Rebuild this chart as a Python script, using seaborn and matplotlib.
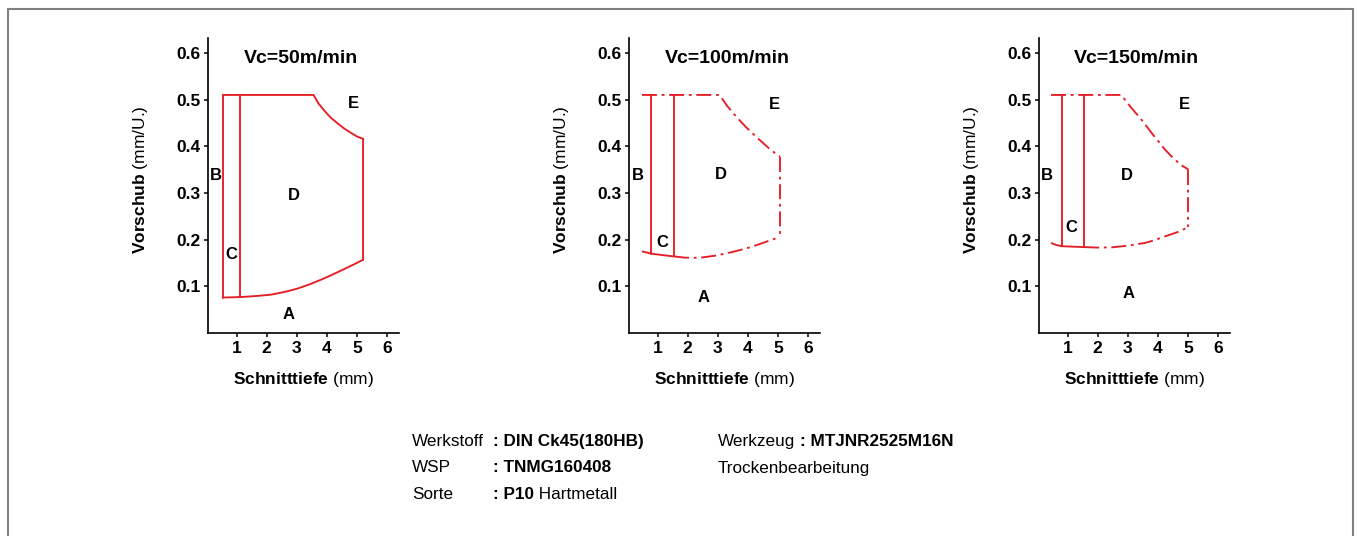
import numpy as np
import pandas as pd
import matplotlib
matplotlib.use("Agg")
import matplotlib.pyplot as plt
from matplotlib.patches import Rectangle
import seaborn as sns

# ---------------------------------------------------------------------------
# Chipbreaking chart data: cutting depth (mm) vs. feed (mm/U.) per speed
# ---------------------------------------------------------------------------
speed_titles = ["Vc=50m/min", "Vc=100m/min", "Vc=150m/min"]
depth_ticks = [1, 2, 3, 4, 5, 6]
feed_ticks = [0.1, 0.2, 0.3, 0.4, 0.5, 0.6]
zone_names = ["A", "B", "C", "D", "E"]

# Vc = 50 m/min
v50_top_x = [0.56, 3.56, 3.72, 3.91, 4.12, 4.36, 4.58, 4.80, 5.00, 5.21]
v50_top_y = [0.51, 0.51, 0.492, 0.477, 0.462, 0.449, 0.438, 0.429, 0.421, 0.416]
v50_bottom_x = [0.56, 1.13, 1.60, 2.13, 2.60, 3.02, 3.46, 3.91, 4.25, 4.58, 4.90, 5.21]
v50_bottom_y = [0.076, 0.077, 0.079, 0.082, 0.088, 0.095, 0.105, 0.117, 0.127, 0.137, 0.147, 0.157]
v50_dividers = [0.56, 1.13]

# Vc = 100 m/min
v100_top_x = [0.48, 3.06, 3.32, 3.61, 3.94, 4.27, 4.49, 4.70, 4.89, 5.07]
v100_top_y = [0.51, 0.51, 0.486, 0.464, 0.441, 0.421, 0.408, 0.396, 0.386, 0.378]
v100_bottom_x = [0.48, 0.79, 1.15, 1.55, 1.90, 2.20, 2.50, 2.95, 3.45, 3.94, 4.37, 4.72, 5.07]
v100_bottom_y = [0.175, 0.170, 0.167, 0.164, 0.1615, 0.161, 0.1620, 0.166, 0.173, 0.181, 0.190, 0.198, 0.206]
v100_dividers = [0.79, 1.55]

# Vc = 150 m/min
v150_top_x = [0.45, 2.78, 3.10, 3.47, 3.85, 4.24, 4.43, 4.63, 4.82, 5.02]
v150_top_y = [0.51, 0.51, 0.484, 0.456, 0.424, 0.393, 0.380, 0.368, 0.358, 0.350]
v150_bottom_x = [0.45, 0.60, 0.80, 1.55, 2.00, 2.47, 3.00, 3.58, 3.90, 4.24, 4.65, 5.02]
v150_bottom_y = [0.193, 0.189, 0.186, 0.184, 0.183, 0.1835, 0.187, 0.193, 0.199, 0.207, 0.216, 0.227]
v150_dividers = [0.80, 1.55]

# where the zone letters sit in each panel (data coordinates)
zone_pos = [
    [(2.73, 0.039), (0.30, 0.338), (0.83, 0.169), (2.90, 0.295), (4.87, 0.491)],
    [(2.53, 0.075), (0.34, 0.338), (1.17, 0.194), (3.11, 0.339), (4.89, 0.489)],
    [(3.02, 0.084), (0.30, 0.338), (1.13, 0.226), (2.97, 0.338), (4.88, 0.489)],
]
title_x = [3.13, 3.33, 3.29]

# ---------------------------------------------------------------------------
sns.set_theme(style="ticks")
plt.rcParams["font.family"] = ["Liberation Sans", "DejaVu Sans"]
plt.rcParams["mathtext.fontset"] = "custom"
plt.rcParams["mathtext.rm"] = "Liberation Sans"
plt.rcParams["mathtext.bf"] = "Liberation Sans:bold"
plt.rcParams["axes.linewidth"] = 1.2
for key in ("text.color", "axes.labelcolor", "xtick.color", "ytick.color",
            "axes.edgecolor"):
    plt.rcParams[key] = "black"

W, H = 1357, 536
RED = "#e41e26"
SOLID = "-"
DASHDOT = (0, (8, 2.5, 1.5, 2.5))
LW = 1.35
FS_TICK = 12.5
FS_ZONE = 12
FS_LABEL = 12.5
FS_NOTE = 12.3

fig = plt.figure(figsize=(W / 100, H / 100), dpi=100)
fig.patch.set_facecolor("white")

# thin grey frame around the sheet
fig.add_artist(Rectangle((8 / W, -20 / H), (1353 - 8) / W, (536 - 9 + 20) / H,
                         transform=fig.transFigure, fill=False,
                         edgecolor="#808080", lw=1.5))


def seg(ax, xs, ys, style):
    df = pd.DataFrame({"x": xs, "y": ys})
    sns.lineplot(data=df, x="x", y="y", sort=False, estimator=None, ax=ax,
                 color=RED, lw=LW, linestyle=style)


def draw_panel(ax, top_x, top_y, bot_x, bot_y, dividers, outline_style):
    # upper boundary (max feed + zone E limit)
    seg(ax, top_x, top_y, outline_style)
    # right boundary (max depth)
    seg(ax, [top_x[-1], bot_x[-1]], [top_y[-1], bot_y[-1]], outline_style)
    # lower boundary (min feed), solid between the two dividers
    i0 = bot_x.index(dividers[0])
    i1 = bot_x.index(dividers[1])
    if i0 > 0:
        seg(ax, bot_x[: i0 + 1], bot_y[: i0 + 1], outline_style)
    seg(ax, bot_x[i0: i1 + 1], bot_y[i0: i1 + 1], SOLID)
    seg(ax, bot_x[i1:], bot_y[i1:], outline_style)
    # zone dividers B|C and C|D
    for d in dividers:
        yb = bot_y[bot_x.index(d)]
        seg(ax, [d, d], [yb, top_y[0]], SOLID)


panels = [
    (v50_top_x, v50_top_y, v50_bottom_x, v50_bottom_y, v50_dividers, SOLID),
    (v100_top_x, v100_top_y, v100_bottom_x, v100_bottom_y, v100_dividers, DASHDOT),
    (v150_top_x, v150_top_y, v150_bottom_x, v150_bottom_y, v150_dividers, DASHDOT),
]
lefts = [208, 629, 1039]
ax_w, ax_top, ax_bot = 191, 38, 333

for k, (left, p) in enumerate(zip(lefts, panels)):
    ax = fig.add_axes([left / W, 1 - ax_bot / H, ax_w / W, (ax_bot - ax_top) / H])
    ax.set_facecolor("white")
    draw_panel(ax, *p)

    ax.set_xlim(0.05, 6.4)
    ax.set_ylim(0, 0.632)
    ax.set_xticks(depth_ticks)
    ax.set_xticklabels([str(t) for t in depth_ticks], fontweight="bold", fontsize=FS_TICK)
    ax.set_yticks(feed_ticks)
    ax.set_yticklabels([f"{t:.1f}" for t in feed_ticks], fontweight="bold", fontsize=FS_TICK)
    ax.tick_params(direction="out", length=3, width=1.1, pad=2.5, colors="black")
    sns.despine(ax=ax)
    ax.set_xlabel("")
    ax.set_ylabel("")

    ax.text(0.5, -0.158, r"$\mathbf{Schnitttiefe}$ (mm)", transform=ax.transAxes,
            ha="center", va="center", fontsize=FS_LABEL)
    ax.text(-0.356, 0.52, r"$\mathbf{Vorschub}$ (mm/U.)", transform=ax.transAxes,
            ha="center", va="center", rotation=90, fontsize=FS_LABEL)

    ax.text(title_x[k], 0.588, speed_titles[k], ha="center", va="center",
            fontsize=14, fontweight="bold")
    for name, (zx, zy) in zip(zone_names, zone_pos[k]):
        ax.text(zx, zy, name, ha="center", va="center", fontsize=FS_ZONE, fontweight="bold")


# ---------------------------------------------------------------------------
# cutting conditions below the charts
def ftext(px, py, s, bold=False):
    return fig.text(px / W, 1 - py / H, s, ha="left", va="baseline",
                    fontsize=FS_NOTE, fontweight="bold" if bold else "normal")


rows = [446, 472.5, 499]
ftext(412, rows[0], "Werkstoff")
ftext(493, rows[0], ": DIN Ck45(180HB)", bold=True)
ftext(412, rows[1], "WSP")
ftext(493, rows[1], ": TNMG160408", bold=True)
ftext(412, rows[2], "Sorte")
p10 = ftext(493, rows[2], ": P10", bold=True)
fig.add_artist(plt.Annotation(" Hartmetall", xy=(1, 0), xycoords=p10,
                              va="bottom", ha="left", fontsize=FS_NOTE))
wz = ftext(718, rows[0], "Werkzeug")
fig.add_artist(plt.Annotation(": MTJNR2525M16N", xy=(1, 0), xycoords=wz,
                              xytext=(5, 0), textcoords="offset pixels",
                              va="bottom", ha="left", fontsize=FS_NOTE, fontweight="bold"))
ftext(718, rows[1], "Trockenbearbeitung")

fig.savefig("out.png", dpi=100, facecolor="white")
